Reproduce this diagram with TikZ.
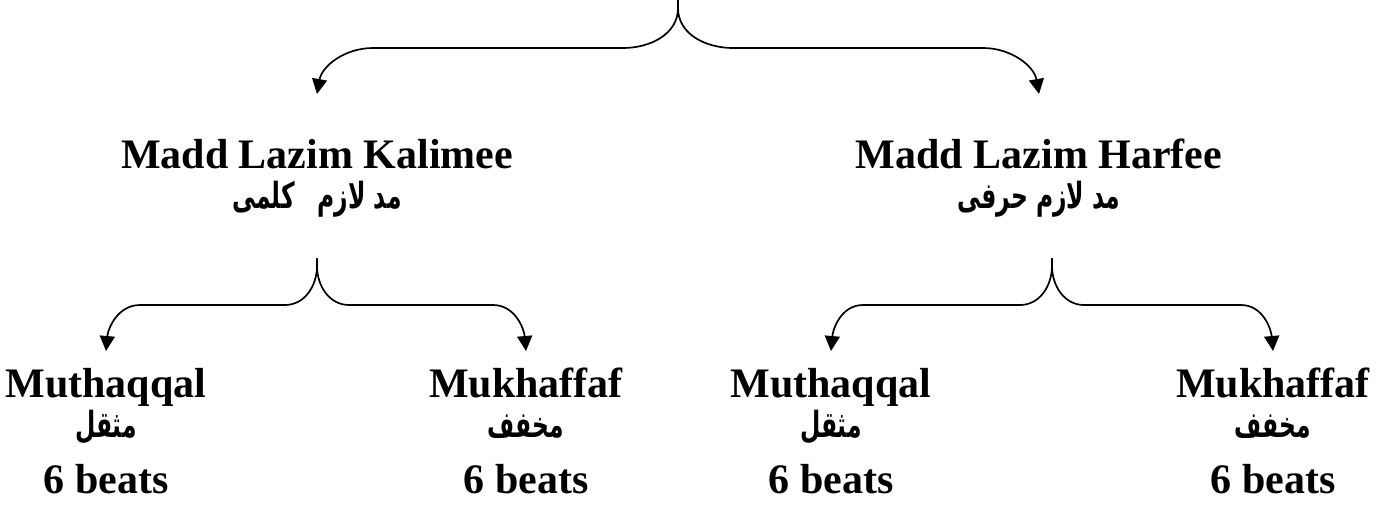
\documentclass[tikz,border=0pt]{standalone}
\usepackage{fontspec}
\setmainfont{Liberation Serif}
\newfontfamily\arabicfont[Script=Arabic, FakeStretch=0.65]{DejaVu Sans}
\TeXXeTstate=1
\usetikzlibrary{arrows.meta, positioning}

\newcommand{\arabtext}[1]{{\arabicfont\beginR #1\endR}}

\begin{document}
\begin{tikzpicture}[x=1pt, y=1pt,
        title/.style={font=\fontsize{42}{44}\selectfont\bfseries, inner sep=0pt, text height=30pt, text depth=9pt},
        arab/.style={font=\fontsize{36}{38}\selectfont\arabicfont\bfseries, inner sep=0pt, text height=26pt, text depth=11pt},
        branch/.style={line width=1.7pt, -{Triangle[length=15pt, width=15pt]}}
    ]
    \useasboundingbox (0,0) rectangle (1392,-507);
    % Top brace
    \coordinate (top) at (678,0);
    \coordinate (topL) at (623,-48);
    \coordinate (topR) at (733,-48);
    \coordinate (kalArm) at (373,-48);
    \coordinate (harArm) at (983,-48);
    \coordinate (kalIn) at (317,-94);
    \coordinate (harIn) at (1039,-94);
    \draw[branch] (top) -- ++(0,-8) to[out=-90, in=0] (topL) -- (kalArm) to[out=180, in=80] (kalIn);
    \draw[branch] (top) -- ++(0,-8) to[out=-90, in=180] (topR) -- (harArm) to[out=0, in=100] (harIn);
    % Madd Lazim Kalimee
    \node[title, below=44pt of kalIn] (kalimee) {Madd Lazim Kalimee};
    \node[arab, below=5pt of kalimee] (kalimeeAr) {\arabtext{مد لازم\hspace{0.4em} كلمى}};
    % Madd Lazim Harfee
    \node[title, below=44pt of harIn] (harfee) {Madd Lazim Harfee};
    \node[arab, below=5pt of harfee] (harfeeAr) {\arabtext{مد لازم حرفى}};
    % Kalimee brace
    \coordinate (kalTop) at (317,-258);
    \coordinate (kalL) at (285,-305);
    \coordinate (kalR) at (349,-305);
    \coordinate (kalMuthArm) at (140,-305);
    \coordinate (kalMukhArm) at (493,-305);
    \coordinate (kalMuthIn) at (106,-351);
    \coordinate (kalMukhIn) at (526,-351);
    \draw[branch] (kalTop) -- ++(0,-8) to[out=-90, in=0] (kalL) -- (kalMuthArm) to[out=180, in=85] (kalMuthIn);
    \draw[branch] (kalTop) -- ++(0,-8) to[out=-90, in=180] (kalR) -- (kalMukhArm) to[out=0, in=95] (kalMukhIn);
    % Harfee brace
    \coordinate (harTop) at (1052,-258);
    \coordinate (harL) at (1020,-305);
    \coordinate (harR) at (1084,-305);
    \coordinate (harMuthArm) at (863,-305);
    \coordinate (harMukhArm) at (1241,-305);
    \coordinate (harMuthIn) at (831,-351);
    \coordinate (harMukhIn) at (1273,-351);
    \draw[branch] (harTop) -- ++(0,-8) to[out=-90, in=0] (harL) -- (harMuthArm) to[out=180, in=85] (harMuthIn);
    \draw[branch] (harTop) -- ++(0,-8) to[out=-90, in=180] (harR) -- (harMukhArm) to[out=0, in=95] (harMukhIn);
    % Kalimee: Muthaqqal
    \node[title, below=16pt of kalMuthIn] (kalMuth) {Muthaqqal};
    \node[arab, below=5pt of kalMuth] (kalMuthAr) {\arabtext{مثقل}};
    \node[title, below=14pt of kalMuthAr] (kalMuthB) {6 beats};
    % Kalimee: Mukhaffaf
    \node[title, below=16pt of kalMukhIn] (kalMukh) {Mukhaffaf};
    \node[arab, below=5pt of kalMukh] (kalMukhAr) {\arabtext{مخفف}};
    \node[title, below=14pt of kalMukhAr] (kalMukhB) {6 beats};
    % Harfee: Muthaqqal
    \node[title, below=16pt of harMuthIn] (harMuth) {Muthaqqal};
    \node[arab, below=5pt of harMuth] (harMuthAr) {\arabtext{مثقل}};
    \node[title, below=14pt of harMuthAr] (harMuthB) {6 beats};
    % Harfee: Mukhaffaf
    \node[title, below=16pt of harMukhIn] (harMukh) {Mukhaffaf};
    \node[arab, below=5pt of harMukh] (harMukhAr) {\arabtext{مخفف}};
    \node[title, below=14pt of harMukhAr] (harMukhB) {6 beats};
\end{tikzpicture}
\end{document}
